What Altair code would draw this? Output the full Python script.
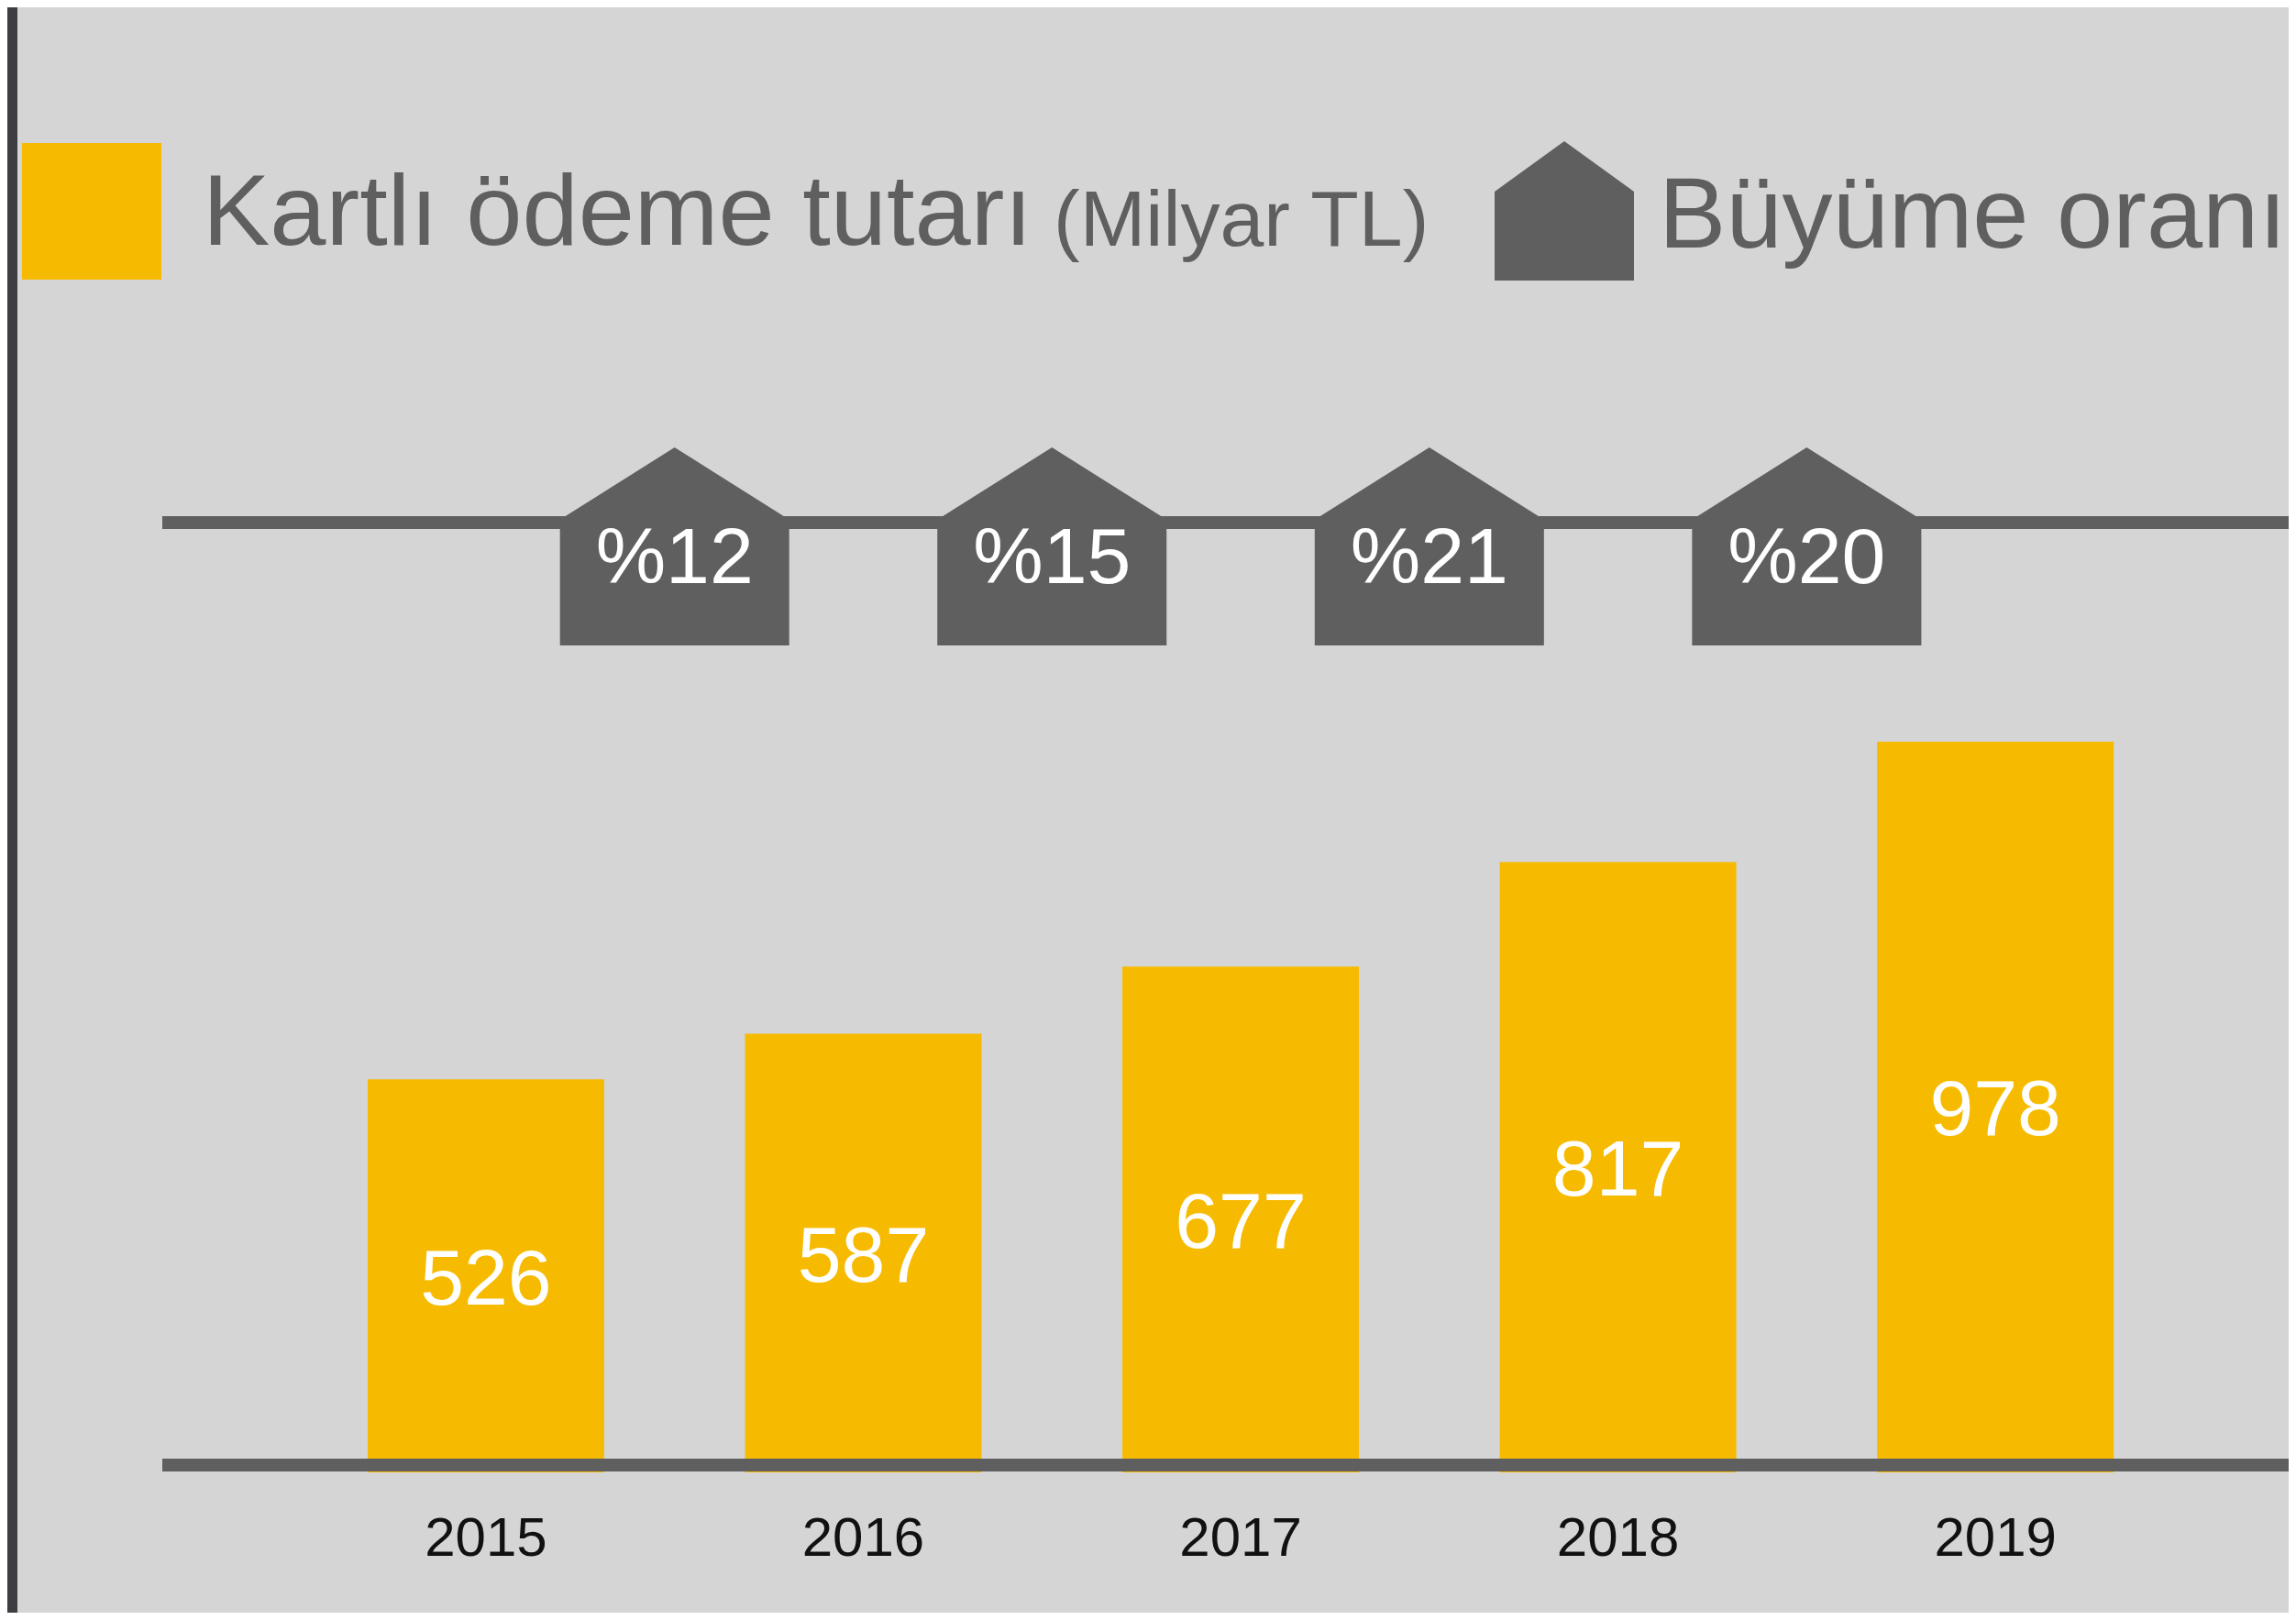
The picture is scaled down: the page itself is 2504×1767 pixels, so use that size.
import altair as alt
import pandas as pd

# ---- data ----
years = [2015, 2016, 2017, 2018, 2019]
amounts = [526, 587, 677, 817, 978]
growth_labels = ["%12", "%15", "%21", "%20"]
legend_amount_title = "Kartlı ödeme tutarı"
legend_amount_unit = "(Milyar TL)"
legend_growth_title = "Büyüme oranı"

# ---- styling ----
W, H = 2488, 1751
BG = "#d5d5d5"
YELLOW = "#f6bb00"
DARK = "#5f5f5f"
FONT = "Liberation Sans"

bars_df = pd.DataFrame({
    "year": years,
    "amount": amounts,
    "year_label": [str(y) for y in years],
    "amount_label": [str(a) for a in amounts],
})
growth_df = pd.DataFrame({
    "gyear": [(a + b) / 2 for a, b in zip(years[:-1], years[1:])],
    "label": growth_labels,
})
one = pd.DataFrame({"k": [0]})

x_scale = alt.Scale(domain=[2013.744, 2019.765], nice=False, zero=False)
y_scale = alt.Scale(domain=[-187.7, 1960.7], nice=False, zero=False)

HOUSE = ("M-1,0.864L1,0.864L1,-0.152L0.952,-0.152L0.952,-0.264L0,-0.864"
         "L-0.952,-0.264L-0.952,-0.152L-1,-0.152Z")
LEG_HOUSE = "M-1,1L1,1L1,-0.276L0,-1L-1,-0.276Z"

left_border = alt.Chart(one).mark_rect(color="#3d3e41").encode(
    x=alt.value(0), x2=alt.value(11), y=alt.value(0), y2=alt.value(H))

growth_line = alt.Chart(one).mark_rule(color=DARK, strokeWidth=14).encode(
    x=alt.value(169), x2=alt.value(W), y=alt.value(562))

bars = alt.Chart(bars_df).mark_bar(size=258, color=YELLOW).encode(
    x=alt.X("year:Q", scale=x_scale, axis=None),
    y=alt.Y("amount:Q", scale=y_scale, axis=None),
    y2=alt.datum(0),
)

baseline = alt.Chart(one).mark_rule(color=DARK, strokeWidth=14).encode(
    x=alt.value(169), x2=alt.value(W), y=alt.value(1590))

value_labels = alt.Chart(bars_df).transform_calculate(
    mid="datum.amount / 2"
).mark_text(color="white", fontSize=86, font=FONT, baseline="middle", dy=5).encode(
    x=alt.X("year:Q", scale=x_scale, axis=None),
    y=alt.Y("mid:Q", scale=y_scale, axis=None),
    text="amount_label:N",
)

year_labels = alt.Chart(bars_df).mark_text(
    color="#111111", fontSize=60, font=FONT, baseline="alphabetic").encode(
    x=alt.X("year:Q", scale=x_scale, axis=None),
    y=alt.value(1689),
    text="year_label:N",
)

houses = alt.Chart(growth_df).mark_point(
    shape=HOUSE, size=62500, filled=True, opacity=1, color=DARK, strokeWidth=0).encode(
    x=alt.X("gyear:Q", scale=x_scale, axis=None),
    y=alt.value(588),
)

house_text = alt.Chart(growth_df).mark_text(
    color="white", fontSize=86, font=FONT, baseline="alphabetic").encode(
    x=alt.X("gyear:Q", scale=x_scale, axis=None),
    y=alt.value(628),
    text="label:N",
)

leg_rect = alt.Chart(one).mark_rect(color=YELLOW).encode(
    x=alt.value(16), x2=alt.value(168), y=alt.value(148), y2=alt.value(297))

leg_house = alt.Chart(one).mark_point(
    shape=LEG_HOUSE, size=23104, filled=True, opacity=1, color=DARK, strokeWidth=0).encode(
    x=alt.value(1698), y=alt.value(222))

leg_t1 = alt.Chart(one).mark_text(
    text=legend_amount_title, color=DARK, fontSize=110, font=FONT,
    align="left", baseline="alphabetic").encode(x=alt.value(213), y=alt.value(259))

leg_t2 = alt.Chart(one).mark_text(
    text=legend_amount_unit, color=DARK, fontSize=86, font=FONT,
    align="left", baseline="alphabetic").encode(x=alt.value(1141), y=alt.value(260))

leg_t3 = alt.Chart(one).mark_text(
    text=legend_growth_title, color=DARK, fontSize=110, font=FONT,
    align="left", baseline="alphabetic").encode(x=alt.value(1801), y=alt.value(262))

chart = alt.layer(
    left_border, growth_line, bars, baseline, value_labels, year_labels,
    houses, house_text, leg_rect, leg_house, leg_t1, leg_t2, leg_t3,
).properties(
    width=W, height=H, background=BG, padding=0,
    autosize=alt.AutoSizeParams(type="none"),
).configure_view(strokeWidth=0)

chart.save("out.html", embed_options={"renderer": "svg", "actions": False})
